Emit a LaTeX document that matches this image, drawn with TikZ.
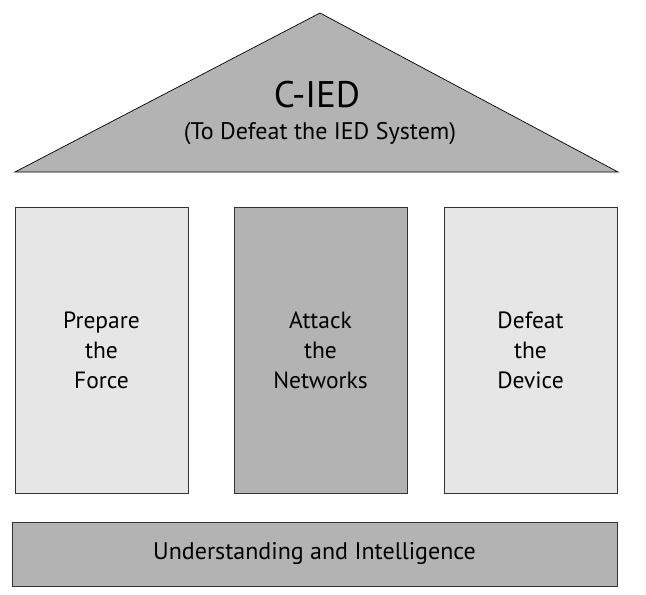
\documentclass[tikz,border=0pt]{standalone}
\usepackage{fontspec}
\setmainfont{PT Sans}
\usetikzlibrary{shapes}
\usetikzlibrary{positioning}
\definecolor{darkgrey}{HTML}{B3B3B3}
\definecolor{lightgrey}{HTML}{E6E6E6}
\tikzstyle{pillar}=[
        draw=black!80,
        line width=0.8pt,
        rectangle,
        minimum width=173pt,
        minimum height=286pt,
        align=center,
        font=\fontsize{23.5}{30}\selectfont
]
\tikzstyle{lightpillar}=[pillar,fill=lightgrey]
\tikzstyle{darkpillar}=[pillar,fill=darkgrey]
\tikzstyle{foundation}=[draw=black!80,line width=0.8pt,rectangle,fill=darkgrey,minimum width=605pt,minimum height=64pt,font=\fontsize{24}{28}\selectfont]
\tikzstyle{roof}=[draw=black,line width=0.7pt,fill=darkgrey]

\begin{document}
\begin{tikzpicture}[x=1pt,y=-1pt]
\useasboundingbox (0,0) rectangle (646,595);
%Roof
\draw[roof] (320,13) -- (618,172) -- (15,172) -- cycle;
\node[font=\fontsize{37}{42}\selectfont] (title) at (317,95) {C-IED};
\node[font=\fontsize{24}{28}\selectfont] (subtitle) at (320,134) {(To Defeat the IED System)};
%Pillars
\node[lightpillar] (force) at (101.5,350) {Prepare\\the\\Force};
\node[darkpillar] (networks) at (320.5,350) {Attack\\the\\Networks};
\node[lightpillar] (device) at (530.5,350) {Defeat\\the\\Device};
%Foundation
\node[foundation] (intel) at (314.5,554) {Understanding and Intelligence};
\end{tikzpicture}
\end{document}
